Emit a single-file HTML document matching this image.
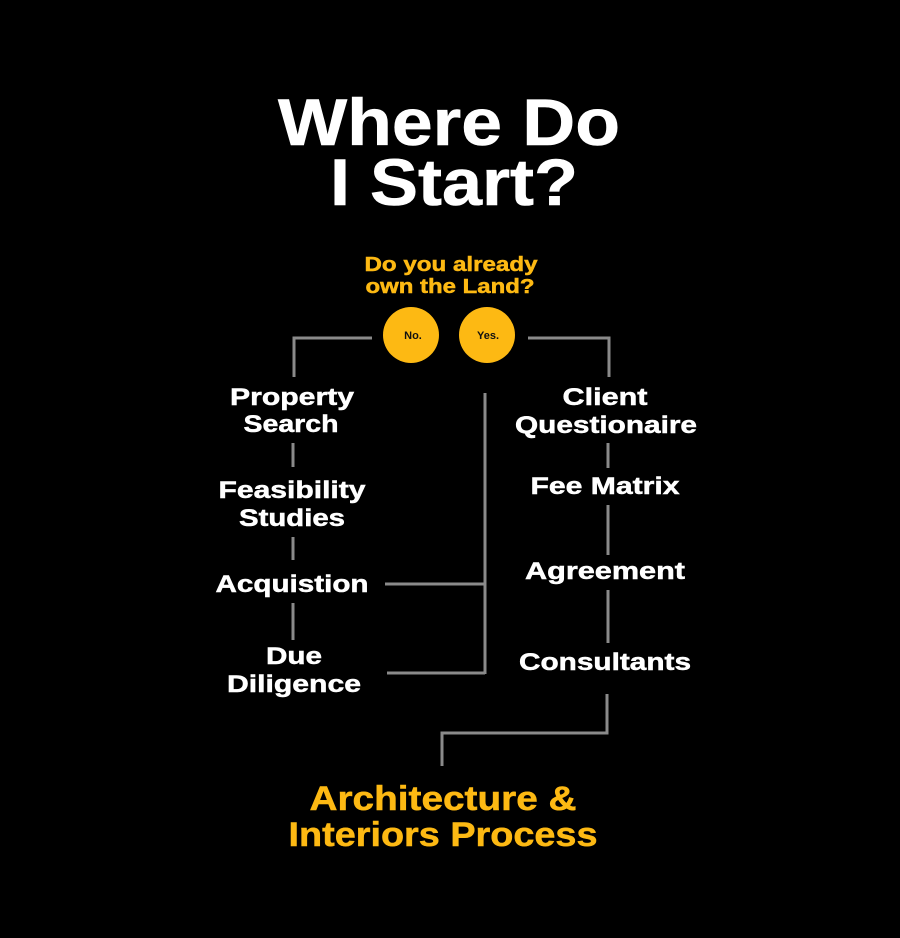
<!DOCTYPE html>
<html><head><style>
html,body{margin:0;padding:0;background:#000;}
svg{display:block}
text{font-family:"Liberation Sans",sans-serif;font-weight:bold;}
</style></head><body>
<svg width="900" height="938" viewBox="0 0 900 938" xmlns="http://www.w3.org/2000/svg">
<rect width="900" height="938" fill="#000"/>
<g fill="#fff" stroke="#fff" stroke-width="0.6" text-anchor="middle">
<text x="449" y="145" font-size="66" textLength="342" lengthAdjust="spacingAndGlyphs">Where Do</text>
<text x="454" y="205" font-size="66" textLength="248" lengthAdjust="spacingAndGlyphs">I Start?</text>
</g>
<g fill="#FDB913" stroke="#FDB913" stroke-width="0.5" text-anchor="middle" font-size="20">
<text x="451" y="271" textLength="173" lengthAdjust="spacingAndGlyphs">Do you already</text>
<text x="450" y="293" textLength="169" lengthAdjust="spacingAndGlyphs">own the Land?</text>
</g>
<circle cx="411" cy="335" r="28" fill="#FDB913"/>
<circle cx="487" cy="335" r="28" fill="#FDB913"/>
<text x="413" y="339" font-size="11" fill="#111" text-anchor="middle">No.</text>
<text x="488" y="339" font-size="11" fill="#111" text-anchor="middle">Yes.</text>
<g stroke="#8a8a8a" stroke-width="3" fill="none">
<polyline points="372,338 294,338 294,377"/>
<polyline points="528,338 609,338 609,377"/>
<line x1="293" y1="443" x2="293" y2="467"/>
<line x1="293" y1="537" x2="293" y2="560"/>
<line x1="293" y1="603" x2="293" y2="640"/>
<line x1="608" y1="443" x2="608" y2="468"/>
<line x1="608" y1="505" x2="608" y2="555"/>
<line x1="608" y1="590" x2="608" y2="643"/>
<line x1="485" y1="393" x2="485" y2="674"/>
<line x1="385" y1="584" x2="485" y2="584"/>
<line x1="387" y1="673" x2="485" y2="673"/>
<polyline points="607,694 607,733 442,733 442,766"/>
</g>
<g fill="#fff" stroke="#fff" stroke-width="0.5" text-anchor="middle" font-size="24">
<text x="292" y="405" textLength="124" lengthAdjust="spacingAndGlyphs">Property</text>
<text x="291" y="432" textLength="95" lengthAdjust="spacingAndGlyphs">Search</text>
<text x="292" y="498" textLength="147" lengthAdjust="spacingAndGlyphs">Feasibility</text>
<text x="292" y="526" textLength="106" lengthAdjust="spacingAndGlyphs">Studies</text>
<text x="292" y="592" textLength="153" lengthAdjust="spacingAndGlyphs">Acquistion</text>
<text x="294" y="664" textLength="56" lengthAdjust="spacingAndGlyphs">Due</text>
<text x="294" y="692" textLength="134" lengthAdjust="spacingAndGlyphs">Diligence</text>
<text x="605" y="405" textLength="85" lengthAdjust="spacingAndGlyphs">Client</text>
<text x="606" y="433" textLength="182" lengthAdjust="spacingAndGlyphs">Questionaire</text>
<text x="605" y="494" textLength="149" lengthAdjust="spacingAndGlyphs">Fee Matrix</text>
<text x="605" y="579" textLength="160" lengthAdjust="spacingAndGlyphs">Agreement</text>
<text x="605" y="670" textLength="172" lengthAdjust="spacingAndGlyphs">Consultants</text>
</g>
<g fill="#FDB913" stroke="#FDB913" stroke-width="0.5" text-anchor="middle" font-size="34">
<text x="443" y="810" textLength="267" lengthAdjust="spacingAndGlyphs">Architecture &amp;</text>
<text x="443" y="846" textLength="309" lengthAdjust="spacingAndGlyphs">Interiors Process</text>
</g>
</svg>
</body></html>
